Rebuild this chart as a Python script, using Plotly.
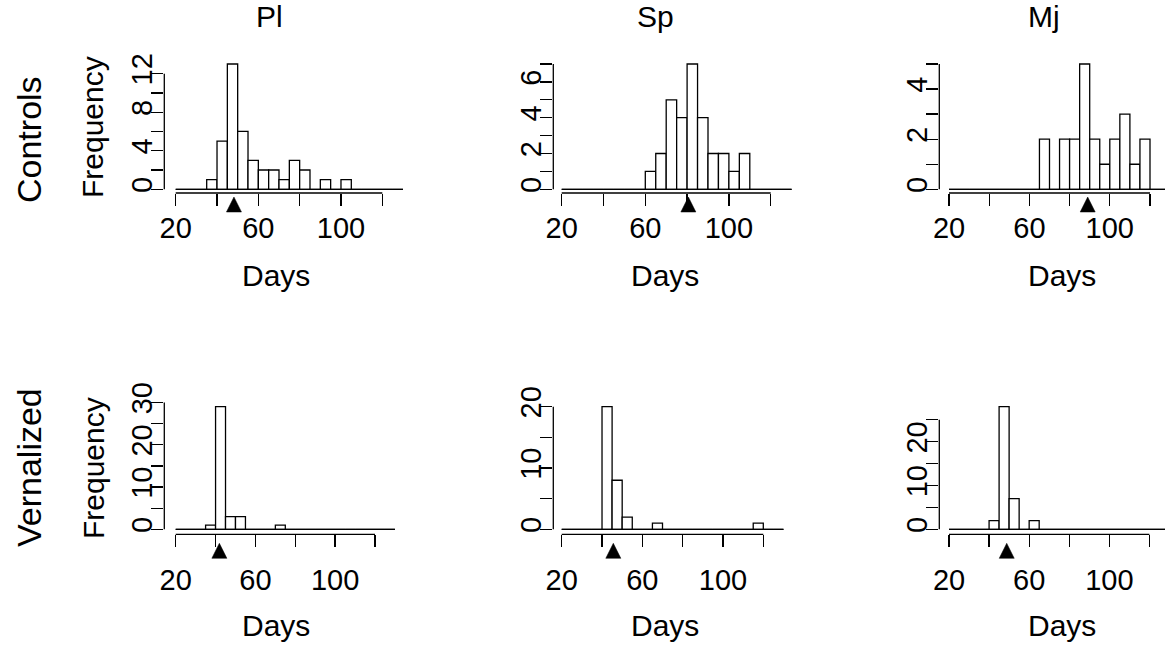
import plotly.graph_objects as go

W, H = 1165, 648

# ---------------- data ----------------
BIN_LEFTS = [20, 25, 30, 35, 40, 45, 50, 55, 60, 65, 70, 75, 80, 85, 90, 95, 100, 105, 110, 115, 120, 125]
BIN_WIDTH = 5
GENOTYPES = ["Pl", "Sp", "Mj"]
TREATMENTS = ["Controls", "Vernalized"]

COUNTS_CONTROLS_PL = [0, 0, 0, 1, 5, 13, 6, 3, 2, 2, 1, 3, 2, 0, 1, 0, 1, 0, 0, 0, 0, 0]
COUNTS_CONTROLS_SP = [0, 0, 0, 0, 0, 0, 0, 0, 1, 2, 5, 4, 7, 4, 2, 2, 1, 2, 0, 0, 0, 0]
COUNTS_CONTROLS_MJ = [0, 0, 0, 0, 0, 0, 0, 0, 0, 2, 0, 2, 2, 5, 2, 1, 2, 3, 1, 2, 0, 0]
COUNTS_VERNALIZED_PL = [0, 0, 0, 1, 29, 3, 3, 0, 0, 0, 1, 0, 0, 0, 0, 0, 0, 0, 0, 0, 0, 0]
COUNTS_VERNALIZED_SP = [0, 0, 0, 0, 20, 8, 2, 0, 0, 1, 0, 0, 0, 0, 0, 0, 0, 0, 0, 1, 0, 0]
COUNTS_VERNALIZED_MJ = [0, 0, 0, 0, 2, 28, 7, 0, 2, 0, 0, 0, 0, 0, 0, 0, 0, 0, 0, 0, 0, 0]

MEDIANS_CONTROLS = [48.2, 80.6, 89.0]
MEDIANS_VERNALIZED = [41.9, 45.6, 48.8]

X_TICKS = [20, 40, 60, 80, 100, 120]
X_TICK_LABELS = ["20", "", "60", "", "100", ""]

Y_TICKS_CONTROLS = [[0, 2, 4, 6, 8, 10, 12], [0, 1, 2, 3, 4, 5, 6, 7], [0, 1, 2, 3, 4, 5]]
Y_LABELS_CONTROLS = [["0", "", "4", "", "8", "", "12"], ["0", "", "2", "", "4", "", "6", ""], ["0", "", "2", "", "4", ""]]
Y_TICKS_VERNALIZED = [[0, 5, 10, 15, 20, 25, 30], [0, 5, 10, 15, 20], [0, 5, 10, 15, 20, 25]]
Y_LABELS_VERNALIZED = [["0", "", "10", "", "20", "", "30"], ["0", "", "10", "", "20"], ["0", "", "10", "", "20", ""]]

COUNTS = [[COUNTS_CONTROLS_PL, COUNTS_CONTROLS_SP, COUNTS_CONTROLS_MJ],
          [COUNTS_VERNALIZED_PL, COUNTS_VERNALIZED_SP, COUNTS_VERNALIZED_MJ]]
MEDIANS = [MEDIANS_CONTROLS, MEDIANS_VERNALIZED]
Y_TICKS = [Y_TICKS_CONTROLS, Y_TICKS_VERNALIZED]
Y_LABELS = [Y_LABELS_CONTROLS, Y_LABELS_VERNALIZED]

# ---------------- layout geometry (pixels) ----------------
# per panel: pixel of day 20, pixel of day 120, left edge, right edge
COL_GEOM = [
    [(175.7, 382.3, 164.3, 414.4), (561.7, 770.7, 553.3, 800.0), (949.0, 1150.0, 939.3, 1165.0)],
    [(175.7, 375.0, 164.3, 406.0), (561.7, 763.3, 553.3, 792.0), (949.0, 1149.4, 939.3, 1165.0)],
]
# per row: pixel of y=0, pixel of max count, bottom edge, top edge
ROW_GEOM = [(189.3, 64.0, 193.0, 59.0), (529.3, 406.7, 534.3, 401.0)]
# x tick label standoff per row
X_STANDOFF = [-3, 8]
# triangle: apex / base offsets below the x-axis line (px)
TRI_GEOM = [(4.0, 19.0), (9.0, 24.0)]
TRI_HALF = 7.5

FONT = "Liberation Sans, Arial, Helvetica, sans-serif"
TICK_SIZE = 29
LAB_SIZE = 30
ROW_SIZE = 34
LW = 1.3

fig = go.Figure()
layout = dict(
    width=W, height=H, autosize=False,
    margin=dict(l=0, r=0, t=0, b=0, pad=0, autoexpand=False),
    paper_bgcolor="white", plot_bgcolor="white",
    showlegend=False, bargap=0,
    font=dict(family=FONT, color="black"),
)
shapes = []
annotations = []

bin_centers = [b + BIN_WIDTH / 2 for b in BIN_LEFTS]

for r in range(2):
    px0, pxmax, pbot, ptop = ROW_GEOM[r]
    for c in range(3):
        n = r * 3 + c + 1
        xa = "x" if n == 1 else f"x{n}"
        ya = "y" if n == 1 else f"y{n}"
        px20, px120, pl, pr = COL_GEOM[r][c]
        counts = COUNTS[r][c]
        cmax = max(counts)
        s = (px120 - px20) / (X_TICKS[-1] - X_TICKS[0])
        xlo = X_TICKS[0] - (px20 - pl) / s
        xhi = X_TICKS[0] + (pr - px20) / s
        k = (px0 - pxmax) / cmax
        ylo = -(pbot - px0) / k
        yhi = cmax + (pxmax - ptop) / k

        # zero-count bins -> flat baseline across all breaks
        fig.add_trace(go.Scatter(
            x=[BIN_LEFTS[0], BIN_LEFTS[-1] + BIN_WIDTH], y=[0, 0], mode="lines",
            line=dict(color="black", width=LW), xaxis=xa, yaxis=ya, hoverinfo="skip"))
        fig.add_trace(go.Bar(
            x=bin_centers, y=counts, width=BIN_WIDTH,
            marker=dict(color="white", line=dict(color="black", width=LW)),
            xaxis=xa, yaxis=ya))

        layout["xaxis" if n == 1 else f"xaxis{n}"] = dict(
            domain=[pl / W, pr / W], range=[xlo, xhi], anchor=ya,
            showgrid=False, zeroline=False, showline=False,
            tickmode="array", tickvals=X_TICKS, ticktext=X_TICK_LABELS,
            ticks="outside", ticklen=12, tickwidth=LW, tickcolor="black",
            tickfont=dict(family=FONT, size=TICK_SIZE, color="black"),
            ticklabelstandoff=X_STANDOFF[r], automargin=False, fixedrange=True)
        layout["yaxis" if n == 1 else f"yaxis{n}"] = dict(
            domain=[1 - pbot / H, 1 - ptop / H], range=[ylo, yhi], anchor=xa,
            showgrid=False, zeroline=False, showline=False,
            tickmode="array", tickvals=Y_TICKS[r][c], ticktext=Y_LABELS[r][c],
            ticks="outside", ticklen=12, tickwidth=LW, tickcolor="black",
            tickangle=-90,
            tickfont=dict(family=FONT, size=TICK_SIZE, color="black"),
            ticklabelstandoff=-12, automargin=False, fixedrange=True)

        # R-style axis lines: only from first to last tick
        shapes.append(dict(type="line", xref=xa, yref=f"{ya} domain",
                           x0=X_TICKS[0], x1=X_TICKS[-1], y0=0, y1=0,
                           line=dict(color="black", width=LW)))
        shapes.append(dict(type="line", xref=f"{xa} domain", yref=ya,
                           x0=0, x1=0, y0=Y_TICKS[r][c][0], y1=Y_TICKS[r][c][-1],
                           line=dict(color="black", width=LW)))
        # median marker (filled triangle under the x axis)
        a_off, b_off = TRI_GEOM[r]
        shapes.append(dict(type="path", xref=xa, yref=f"{ya} domain",
                           xsizemode="pixel", ysizemode="pixel",
                           xanchor=MEDIANS[r][c], yanchor=0,
                           path=f"M {-TRI_HALF},{-b_off} L {TRI_HALF},{-b_off} L 0,{-a_off} Z",
                           fillcolor="black", line=dict(color="black", width=0.5),
                           layer="above"))

# text labels (pixel positions)
TITLE_POS = [(269, 16), (655, 16), (1044, 16)]
DAYS_POS = [[(276, 275), (665, 275), (1062, 275)], [(276, 625), (665, 625), (1062, 625)]]
FREQ_POS = [(93, 127), (93, 468)]
ROW_POS = [(29, 140), (29, 468)]


def ann(text, x, y, size, angle=0):
    return dict(text=text, x=x / W, y=1 - y / H, xref="paper", yref="paper",
                xanchor="center", yanchor="middle", showarrow=False, textangle=angle,
                font=dict(family=FONT, size=size, color="black"))


for c, g in enumerate(GENOTYPES):
    annotations.append(ann(g, *TITLE_POS[c], LAB_SIZE))
for r in range(2):
    for c in range(3):
        annotations.append(ann("Days", *DAYS_POS[r][c], LAB_SIZE))
    annotations.append(ann("Frequency", *FREQ_POS[r], LAB_SIZE, -90))
    annotations.append(ann(TREATMENTS[r], *ROW_POS[r], ROW_SIZE, -90))

layout["shapes"] = shapes
layout["annotations"] = annotations
fig.update_layout(**layout)
fig.write_html(
    "out.html",
    config={"displayModeBar": False, "staticPlot": True},
    post_script="document.body.style.margin='0px';document.body.style.overflow='hidden';",
)
